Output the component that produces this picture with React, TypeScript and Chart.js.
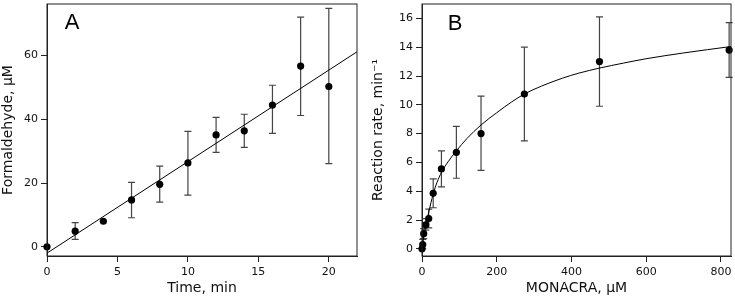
import React, { useEffect, useRef } from "react";
import { Chart, registerables } from "chart.js";

Chart.register(...registerables);

// ---------- Panel A data ----------
const timeA = [0, 2, 4, 6, 8, 10, 12, 14, 16, 18, 20];
const formaldehydeA = [0, 4.9, 8.0, 14.7, 19.6, 26.3, 35.1, 36.4, 44.5, 56.7, 50.3];
const lowA = [null, 2.3, null, 9.1, 14.0, 16.2, 29.6, 31.2, 35.6, 41.2, 26.1];
const highA = [null, 7.6, null, 20.2, 25.3, 36.2, 40.6, 41.6, 50.7, 72.1, 74.8];
const fitXA = [0, 22];
const fitYA = [-2.0, 61.2];
const xTicksA = [0, 5, 10, 15, 20];
const yTicksA = [0, 20, 40, 60];

// ---------- Panel B data ----------
const concB = [0, 2, 4.5, 10, 18, 30, 52, 92, 158, 274, 475, 822];
const rateB = [0, 0.3, 1.05, 1.67, 2.1, 3.85, 5.55, 6.7, 8.0, 10.75, 13.0, 13.8];
const lowB = [null, 0, 0.7, 1.3, 1.45, 2.85, 4.3, 4.9, 5.45, 7.5, 9.9, 11.9];
const highB = [null, 0.65, 1.4, 2.1, 2.75, 4.85, 6.8, 8.5, 10.6, 14.0, 16.1, 15.7];
const fitXB = [0, 5, 10, 18, 30, 40, 52, 70, 92, 120, 158, 200, 240, 274, 320, 376, 420, 475, 540, 600, 700, 828];
const fitYB = [0, 0.9, 1.6, 2.55, 3.8, 4.6, 5.3, 6.05, 6.8, 7.65, 8.6, 9.45, 10.2, 10.75, 11.3, 11.85, 12.2, 12.55, 12.9, 13.2, 13.6, 14.05];
const xTicksB = [0, 200, 400, 600, 800];
const yTicksB = [0, 2, 4, 6, 8, 10, 12, 14, 16];

const FONT = "'DejaVu Sans', Verdana, sans-serif";
const TEXT = "#111";

const errPlugin = {
  id: "errbars",
  beforeDatasetsDraw(chart: any, _a: any, opts: any) {
    const { ctx } = chart;
    const xs = chart.scales.x;
    const ys = chart.scales.y;
    ctx.save();
    ctx.strokeStyle = opts.color;
    ctx.lineWidth = opts.width;
    opts.xs.forEach((xv: number, i: number) => {
      const lo = opts.low[i];
      const hi = opts.high[i];
      if (lo == null || hi == null) return;
      const px = xs.getPixelForValue(xv);
      const pl = ys.getPixelForValue(lo);
      const ph = ys.getPixelForValue(hi);
      ctx.beginPath();
      ctx.moveTo(px, pl);
      ctx.lineTo(px, ph);
      ctx.moveTo(px - opts.cap, pl);
      ctx.lineTo(px + opts.cap, pl);
      ctx.moveTo(px - opts.cap, ph);
      ctx.lineTo(px + opts.cap, ph);
      ctx.stroke();
    });
    ctx.restore();
  },
};

const framePlugin = {
  id: "frame",
  afterDraw(chart: any, _a: any, opts: any) {
    const { ctx, chartArea } = chart;
    const { left, top, right, bottom } = chartArea;
    ctx.save();
    ctx.strokeStyle = "#222";
    ctx.lineWidth = 1;
    ctx.strokeRect(left, top, right - left, bottom - top);
    ctx.fillStyle = "#000";
    ctx.font = "22px 'Liberation Sans', Arial, sans-serif";
    ctx.textAlign = "center";
    ctx.textBaseline = "middle";
    ctx.fillText(opts.letter, left + opts.dx, top + opts.dy);
    ctx.restore();
  },
};

function makeConfig(p: {
  xs: number[];
  ys: number[];
  low: (number | null)[];
  high: (number | null)[];
  fitX: number[];
  fitY: number[];
  xTicks: number[];
  yTicks: number[];
  xMin: number;
  xMax: number;
  yMin: number;
  yMax: number;
  xTitle: string;
  yTitle: string;
  yWidth: number;
  yTitlePad: number;
  padRight: number;
  padTop: number;
  letter: string;
  letterDx: number;
  letterDy: number;
  smooth: boolean;
}): any {
  return {
    type: "scatter",
    data: {
      datasets: [
        {
          data: p.fitX.map((x, i) => ({ x, y: p.fitY[i] })),
          showLine: true,
          borderColor: "#000",
          borderWidth: 1,
          pointRadius: 0,
          fill: false,
          cubicInterpolationMode: p.smooth ? "monotone" : "default",
        },
        {
          data: p.xs.map((x, i) => ({ x, y: p.ys[i] })),
          showLine: false,
          pointRadius: 3.6,
          pointBackgroundColor: "#000",
          pointBorderColor: "#000",
          pointBorderWidth: 0,
          clip: false,
        },
      ],
    },
    options: {
      responsive: false,
      animation: false,
      devicePixelRatio: 1,
      layout: { padding: { left: 0, right: p.padRight, top: p.padTop, bottom: 0 } },
      plugins: {
        legend: { display: false },
        tooltip: { enabled: false },
        errbars: { xs: p.xs, low: p.low, high: p.high, color: "#444", width: 1.2, cap: 3.5 },
        frame: { letter: p.letter, dx: p.letterDx, dy: p.letterDy },
      },
      scales: {
        x: {
          type: "linear",
          min: p.xMin,
          max: p.xMax,
          afterBuildTicks: (s: any) => {
            s.ticks = p.xTicks.map((v) => ({ value: v }));
          },
          afterFit: (s: any) => {
            s.height = 42;
            s.paddingLeft = 0;
            s.paddingRight = 0;
          },
          grid: { display: true, drawOnChartArea: false, drawTicks: true, tickLength: 6, tickColor: "#222", color: "#222" },
          border: { display: true, color: "#222", width: 1 },
          ticks: { color: TEXT, font: { family: FONT, size: 11 }, padding: 4, maxRotation: 0 },
          title: { display: true, text: p.xTitle, color: TEXT, font: { family: FONT, size: 14 }, padding: { top: 0, bottom: 1 } },
        },
        y: {
          type: "linear",
          min: p.yMin,
          max: p.yMax,
          afterBuildTicks: (s: any) => {
            s.ticks = p.yTicks.map((v) => ({ value: v }));
          },
          afterFit: (s: any) => {
            s.width = p.yWidth;
            s.paddingTop = 0;
            s.paddingBottom = 0;
          },
          grid: { display: true, drawOnChartArea: false, drawTicks: true, tickLength: 6, tickColor: "#222", color: "#222" },
          border: { display: true, color: "#222", width: 1 },
          ticks: { color: TEXT, font: { family: FONT, size: 11 }, padding: 3 },
          title: { display: true, text: p.yTitle, color: TEXT, font: { family: FONT, size: 14 }, padding: { top: p.yTitlePad, bottom: 0 } },
        },
      },
    },
    plugins: [errPlugin, framePlugin],
  };
}

export default function App() {
  const refA = useRef<HTMLCanvasElement | null>(null);
  const refB = useRef<HTMLCanvasElement | null>(null);

  useEffect(() => {
    const chartA = new Chart(
      refA.current as HTMLCanvasElement,
      makeConfig({
        xs: timeA,
        ys: formaldehydeA,
        low: lowA,
        high: highA,
        fitX: fitXA,
        fitY: fitYA,
        xTicks: xTicksA,
        yTicks: yTicksA,
        xMin: 0,
        xMax: 22,
        yMin: -2.9,
        yMax: 76.2,
        xTitle: "Time, min",
        yTitle: "Formaldehyde, μM",
        yWidth: 47,
        yTitlePad: 0,
        padRight: 8,
        padTop: 2,
        letter: "A",
        letterDx: 25,
        letterDy: 19,
        smooth: false,
      })
    );
    const chartB = new Chart(
      refB.current as HTMLCanvasElement,
      makeConfig({
        xs: concB,
        ys: rateB,
        low: lowB,
        high: highB,
        fitX: fitXB,
        fitY: fitYB,
        xTicks: xTicksB,
        yTicks: yTicksB,
        xMin: 0,
        xMax: 827,
        yMin: -0.5,
        yMax: 17,
        xTitle: "MONACRA, μM",
        yTitle: "Reaction rate, min⁻¹",
        yWidth: 57,
        yTitlePad: 5,
        padRight: 3,
        padTop: 1.5,
        letter: "B",
        letterDx: 33,
        letterDy: 19.5,
        smooth: true,
      })
    );
    return () => {
      chartA.destroy();
      chartB.destroy();
    };
  }, []);

  return (
    <div style={{ position: "absolute", left: 0, top: 0, width: 735, height: 298, background: "#fff", overflow: "hidden" }}>
      <canvas ref={refA} width={365} height={298} style={{ position: "absolute", left: 0, top: 0, width: 365, height: 298 }} />
      <canvas ref={refB} width={370} height={298} style={{ position: "absolute", left: 365, top: 0, width: 370, height: 298 }} />
    </div>
  );
}
